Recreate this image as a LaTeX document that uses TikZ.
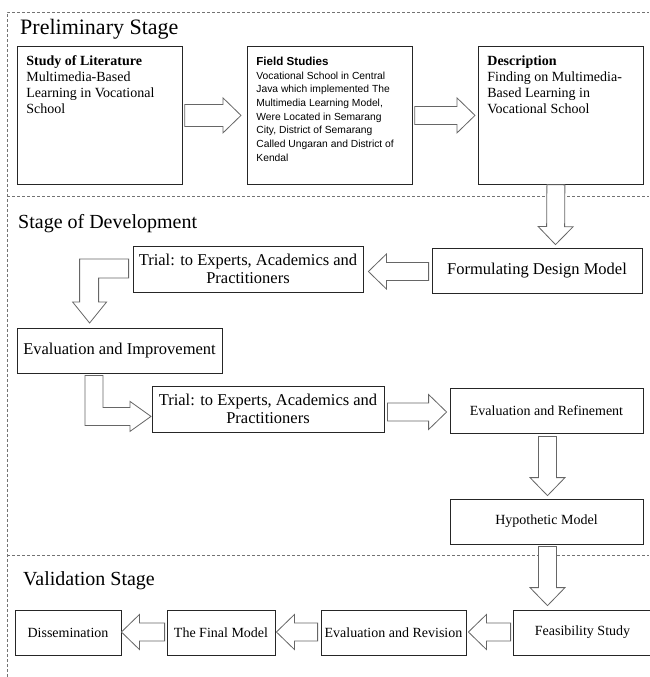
\documentclass[tikz,border=0pt]{standalone}
\usepackage{fontspec}
\setmainfont{Liberation Serif}
\newfontfamily\fieldfont{Liberation Sans}
\usetikzlibrary{positioning, calc}

% text of the three boxes of the first stage, set from the top
\newcommand{\toptext}[2]{\parbox[c][138pt][t]{147pt}{\raggedright\vspace*{#1pt}#2}}
% white block arrow from #2 to the tip #3, #1 = half width of the shaft
\newcommand{\blockarrow}[3][9]{%
  \draw[blockarr] let \p1=(#2), \p2=(#3),
    \n1={atan2(\y2-\y1,\x2-\x1)}, \n2={veclen(\x2-\x1,\y2-\y1)} in
    [shift={(\p1)}, rotate=\n1]
    (0pt,-#1pt) -- (\n2-18pt,-#1pt) -- (\n2-18pt,-17.5pt) -- (\n2,0pt)
    -- (\n2-18pt,17.5pt) -- (\n2-18pt,#1pt) -- (0pt,#1pt) -- cycle;}

\begin{document}
\begin{tikzpicture}[x=1pt, y=-1pt,
    box/.style={draw=black!85, line width=0.8pt, inner sep=0pt, align=center},
    topbox/.style={draw=black!85, line width=0.8pt, anchor=north west, inner xsep=9pt, inner ysep=0pt},
    bigtext/.style={font=\fontsize{16.5}{18}\selectfont},
    smalltext/.style={font=\fontsize{14}{16}\selectfont},
    stagetitle/.style={anchor=base west, inner sep=0pt, font=\fontsize{20}{24}\selectfont},
    stageline/.style={draw=black!55, densely dashed, line width=0.6pt},
    blockarr/.style={draw=black!60, fill=white, line width=0.8pt, line join=miter}]

    \useasboundingbox (0,0) rectangle (649,677);

    % stages
    \draw[stageline] (7,677) -- (7,12) -- (649,12);
    \draw[stageline] (7,196) -- (649,196);
    \draw[stageline] (7,555) -- (649,555);
    \node[stagetitle, font=\fontsize{22}{24}\selectfont] (pre) at (20,35) {Preliminary Stage};
    \node[stagetitle] (dev) at (18,228) {Stage of Development};
    \node[stagetitle] (val) at (23,585) {Validation Stage};

    % preliminary stage
    \node[topbox, font=\fontsize{14}{16}\selectfont] (lit) at (17,46)
        {\toptext{9.4}{{\bfseries Study of Literature}\\Multimedia-Based\\Learning in Vocational\\School}};
    \node[topbox] (field) at (247,46)
        {\toptext{10.5}{\fieldfont\fontsize{10.3}{13.7}\selectfont
        {\bfseries\fontsize{11.6}{13.7}\selectfont Field Studies}\\Vocational School in Central\\Java which implemented The\\Multimedia Learning Model,\\Were Located in Semarang\\City, District of Semarang\\Called Ungaran and District of\\Kendal}};
    \node[topbox, font=\fontsize{14}{16}\selectfont] (desc) at (478,46)
        {\toptext{9.4}{{\bfseries Description}\\Finding on Multimedia-\\Based Learning in\\Vocational School}};

    % stage of development
    \node[box, bigtext, minimum width=210, minimum height=45] (form) at (537,270.5) {Formulating Design Model};
    \node[box, bigtext, minimum width=230, minimum height=46] (trialA) at (248,269) {Trial: to Experts, Academics and\\Practitioners};
    \node[box, bigtext, minimum width=205, minimum height=45] (evalImp) at (119.5,350.5) {Evaluation and Improvement};
    \node[box, bigtext, minimum width=232, minimum height=46] (trialB) at (268,409) {Trial: to Experts, Academics and\\Practitioners};
    \node[box, smalltext, minimum width=193, minimum height=45] (evalRef) at (546.5,410.5) {Evaluation and Refinement};
    \node[box, smalltext, minimum width=193, minimum height=45] (hypo) at (546.5,521.5) {Hypothetic Model};

    % validation stage
    \node[box, smalltext, minimum width=139, minimum height=45] (feas) at (582.5,632.5) {Feasibility Study};
    \node[box, smalltext, minimum width=145, minimum height=45] (evalRev) at (393.5,632.5) {Evaluation and Revision};
    \node[box, smalltext, minimum width=108, minimum height=45] (final) at (221,632.5) {The Final Model};
    \node[box, smalltext, minimum width=106, minimum height=45] (dissem) at (68,632.5) {Dissemination};

    % arrows
    \blockarrow[11]{$(lit.east)+(2,0)$}{$(field.west)+(-6,0)$}
    \blockarrow{$(field.east)+(2,0)$}{$(desc.west)+(-3,0)$}
    \blockarrow{$(desc.south)+(-5,0)$}{$(form.north)+(18.5,-3)$}
    \blockarrow{$(form.west)+(-3,1)$}{$(trialA.east)+(5,2.5)$}
    \draw[blockarr] ($(trialA.west)+(-4,-10)$) -- ++(-49,0) -- ++(0,43) -- ++(-7,0)
        -- ++(17,21) -- ++(17,-21) -- ++(-8,0) -- ++(0,-24) -- ++(30,0) -- cycle;
    \draw[blockarr] ($(evalImp.south)+(-34.5,2)$) -- ++(0,50) -- ++(45,0) -- ++(0,6)
        -- ++(21,-15) -- ++(-21,-15) -- ++(0,6) -- ++(-27,0) -- ++(0,-32) -- cycle;
    \blockarrow{$(trialB.east)+(3,3)$}{$(evalRef.west)+(-3,1.5)$}
    \blockarrow{$(evalRef.south)+(1,3)$}{$(hypo.north)+(1,-3)$}
    \blockarrow{$(hypo.south)+(1,2)$}{$(hypo.south |- feas.north)+(1,-4)$}
    \blockarrow{$(feas.west)+(-2,-0.5)$}{$(evalRev.east)+(2,-0.5)$}
    \blockarrow{$(evalRev.west)+(-3,-0.5)$}{$(final.east)+(1,-0.5)$}
    \blockarrow{$(final.west)+(-2,-0.5)$}{$(dissem.east)+(0,-0.5)$}
\end{tikzpicture}
\end{document}
